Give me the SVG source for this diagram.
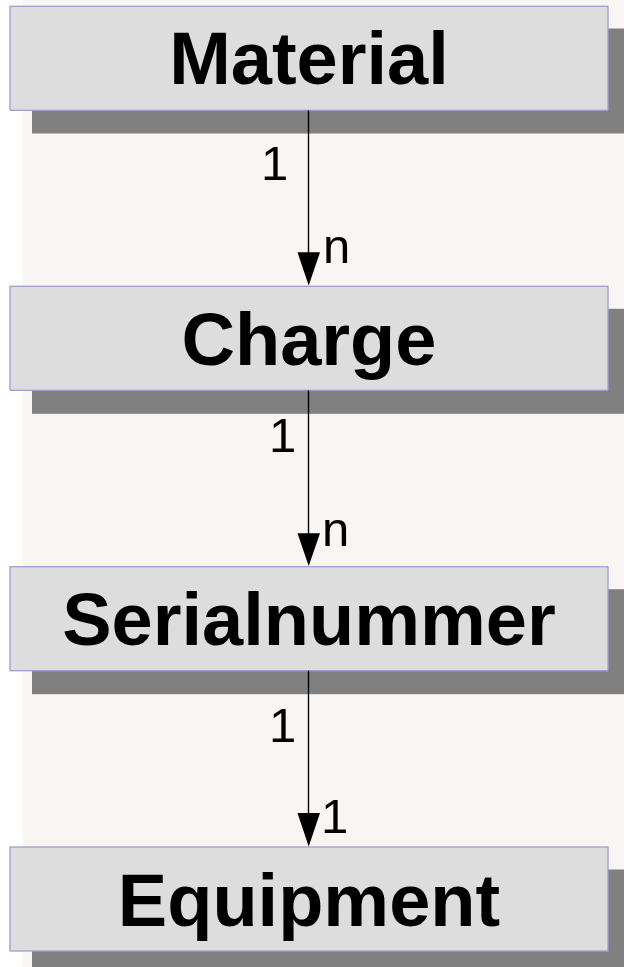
<svg xmlns="http://www.w3.org/2000/svg" width="624" height="967" viewBox="0 0 624 967">
<style>
.shadow{fill:#808080}
.box{fill:#dddddd;stroke:#9e9ed8;stroke-width:1.3}
.title{font-family:"Liberation Sans",Arial,sans-serif;font-weight:bold;font-size:74px;fill:#000;text-anchor:middle}
.card{font-family:"Liberation Sans",Arial,sans-serif;font-size:49px;fill:#000}
.line{stroke:#000;stroke-width:1.4;fill:none}
.head{fill:#000}
</style>
<rect x="0" y="0" width="624" height="967" fill="#ffffff"/>
<rect x="23" y="0" width="601" height="967" fill="#f9f5f3"/>
<g id="material">
<rect class="shadow" x="32" y="28.5" width="600" height="105"/>
<rect class="box" x="10" y="6.3" width="598" height="104"/>
<text class="title" x="309" y="84.3">Material</text>
</g>
<g id="charge">
<rect class="shadow" x="32" y="308.8" width="600" height="105"/>
<rect class="box" x="10" y="286.3" width="598" height="104"/>
<text class="title" x="309" y="364.5">Charge</text>
</g>
<g id="serialnummer">
<rect class="shadow" x="32" y="589.2" width="600" height="105"/>
<rect class="box" x="10" y="566.7" width="598" height="104"/>
<text class="title" x="309" y="645">Serialnummer</text>
</g>
<g id="equipment">
<rect class="shadow" x="32" y="869.5" width="600" height="105"/>
<rect class="box" x="10" y="847" width="598" height="104"/>
<text class="title" x="309" y="925.5">Equipment</text>
</g>
<g id="connectors">
<line class="line" x1="308.5" y1="110.3" x2="308.5" y2="256"/>
<polygon class="head" points="297.5,252.3 320,252.3 308.7,285.5"/>
<text class="card" x="261" y="180">1</text>
<text class="card" x="323" y="262.7">n</text>
<line class="line" x1="308.5" y1="390.3" x2="308.5" y2="537"/>
<polygon class="head" points="297.5,533.3 320,533.3 308.7,566"/>
<text class="card" x="269" y="451.7">1</text>
<text class="card" x="322" y="545.7">n</text>
<line class="line" x1="308.5" y1="670.7" x2="308.5" y2="817"/>
<polygon class="head" points="297.5,813 320,813 308.7,846.5"/>
<text class="card" x="269" y="741.7">1</text>
<text class="card" x="321" y="833">1</text>
</g>
</svg>
